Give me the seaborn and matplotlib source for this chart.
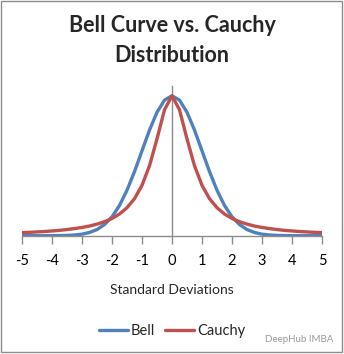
import numpy as np
import pandas as pd
import matplotlib
matplotlib.use("Agg")
import matplotlib.pyplot as plt
from matplotlib.patches import Rectangle
from matplotlib.lines import Line2D
import seaborn as sns

# Values (step 0.25, symmetric about 0)
x_pos = [0.0, 0.25, 0.5, 0.75, 1.0, 1.25, 1.5, 1.75, 2.0, 2.25, 2.5, 2.75, 3.0,
         3.25, 3.5, 3.75, 4.0, 4.25, 4.5, 4.75, 5.0]
bell_pos = [1.000, 0.969, 0.882, 0.755, 0.607, 0.458, 0.325, 0.216, 0.135, 0.080,
            0.044, 0.023, 0.011, 0.005, 0.002, 0.001, 0.000, 0.000, 0.000, 0.000, 0.000]
cauchy_pos = [1.000, 0.900, 0.692, 0.500, 0.360, 0.265, 0.200, 0.155, 0.123, 0.100,
              0.083, 0.069, 0.059, 0.051, 0.044, 0.038, 0.034, 0.030, 0.027, 0.024, 0.022]
tick_values = [-5, -4, -3, -2, -1, 0, 1, 2, 3, 4, 5]
tick_labels = ["-5", "-4", "-3", "-2", "-1", "0", "1", "2", "3", "4", "5"]

xs = [-v for v in x_pos[:0:-1]] + x_pos
bell = bell_pos[:0:-1] + bell_pos
cauchy = cauchy_pos[:0:-1] + cauchy_pos

df = pd.DataFrame({
    "x": xs + xs,
    "y": bell + cauchy,
    "series": ["Bell"] * len(xs) + ["Cauchy"] * len(xs),
})

sns.set_style("white")
plt.rcParams["font.family"] = ["Lato", "DejaVu Sans"]

W, H = 344, 354
fig = plt.figure(figsize=(W / 100, H / 100), dpi=100)

def fx(px):
    return px / W

def fy(py):
    return 1 - py / H

ax_left, ax_right, ax_top, ax_bottom = 22, 322, 86, 235.7
ax = fig.add_axes([fx(ax_left), fy(ax_bottom), (ax_right - ax_left) / W, (ax_bottom - ax_top) / H])

sns.lineplot(data=df, x="x", y="y", hue="series",
             palette={"Bell": "#4F81BD", "Cauchy": "#C0504D"},
             linewidth=2.4, ax=ax, legend=False, sort=False)

ax.set_xlim(-5, 5)
ax.set_ylim(0, 1.07)
for s in ["top", "right"]:
    ax.spines[s].set_visible(False)
ax.spines["left"].set_position(("data", 0))
ax.spines["left"].set_color("#8c8c8c")
ax.spines["left"].set_linewidth(1.0)
ax.spines["left"].set_zorder(0)
ax.spines["bottom"].set_color("#8c8c8c")
ax.spines["bottom"].set_linewidth(1.0)
ax.set_yticks([])
ax.set_xticks(tick_values)
ax.set_xticklabels(tick_labels)
ax.tick_params(axis="x", direction="out", length=5.5, width=1.0, color="#8c8c8c",
               pad=8, labelsize=10.5, labelcolor="black", bottom=True)
ax.set_xlabel("")
ax.set_ylabel("")

fig.text(0.5, fy(25), "Bell Curve vs. Cauchy", ha="center", va="center",
         fontsize=15.5, fontweight="bold")
fig.text(0.5, fy(55), "Distribution", ha="center", va="center",
         fontsize=15.5, fontweight="bold")
fig.text(0.5, fy(290), "Standard Deviations", ha="center", va="center", fontsize=10)

handles = [Line2D([], [], color="#4F81BD", lw=2.4), Line2D([], [], color="#C0504D", lw=2.4)]
fig.legend(handles, ["Bell", "Cauchy"], loc="center", bbox_to_anchor=(fx(172), fy(331)),
           ncol=2, frameon=False, fontsize=10.5, handlelength=2.0, handletextpad=0.2,
           columnspacing=0.7)

fig.text(fx(265), fy(339), "DeepHub IMBA", ha="left", va="center", fontsize=7,
         color="#9a9a9a")

fig.patches.append(Rectangle((fx(1), fy(352)), fx(341), (351 / H), transform=fig.transFigure,
                             fill=False, edgecolor="#8c8c8c", linewidth=1.0))

fig.savefig("out.png", dpi=100)
